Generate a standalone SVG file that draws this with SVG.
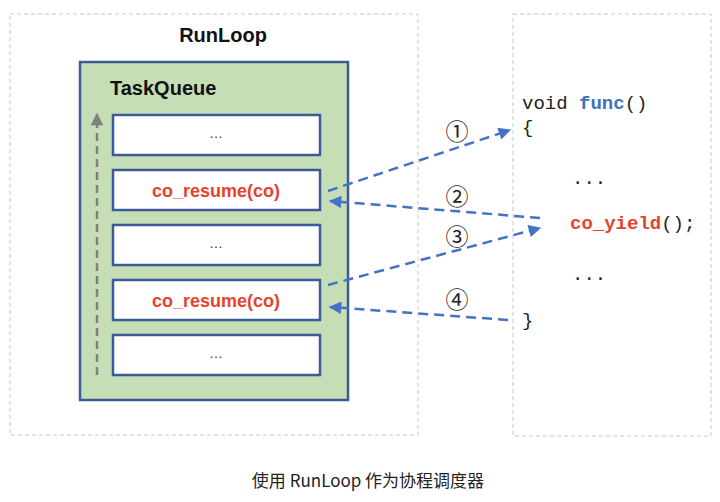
<svg xmlns="http://www.w3.org/2000/svg" width="720" height="502" viewBox="0 0 720 502">
<defs>
<style>
.frame{fill:#fff;stroke:#c8c8c8;stroke-width:1;stroke-dasharray:4 3}
.task{fill:#fff;stroke:#3d5a98;stroke-width:2.5}
.dots{font-family:"Liberation Sans",Arial,sans-serif;font-size:14px;fill:#333;text-anchor:middle}
.red{font-family:"Liberation Sans",Arial,sans-serif;font-size:18px;font-weight:bold;fill:#e5432f;text-anchor:middle}
.title{font-family:"Liberation Sans",Arial,sans-serif;font-size:20px;font-weight:bold;fill:#111}
.code{font-family:"Liberation Mono","Courier New",monospace;font-size:19px;fill:#222}
.num{font-family:"Noto Sans CJK SC","DejaVu Sans",sans-serif;font-size:23px;fill:#222;text-anchor:middle}
.conn{fill:none;stroke:#4472c4;stroke-width:2.5;stroke-dasharray:10 6}
</style>
<marker id="ah" viewBox="0 0 10 10" refX="9" refY="5" markerWidth="6" markerHeight="5" markerUnits="strokeWidth" orient="auto">
<path d="M0,0 L10,5 L0,10 z" fill="#4472c4"/>
</marker>
<marker id="ahg" viewBox="0 0 10 10" refX="9" refY="5" markerWidth="5.5" markerHeight="5" markerUnits="strokeWidth" orient="auto">
<path d="M0,0 L10,5 L0,10 z" fill="#808080"/>
</marker>
</defs>
<rect width="720" height="502" fill="#fff"/>
<g id="runloop">
<rect class="frame" x="10" y="14" width="408" height="421"/>
<text class="title" x="223" y="42" text-anchor="middle">RunLoop</text>
</g>
<g id="taskqueue">
<rect x="80" y="62" width="268" height="338" fill="#c5deb5" stroke="#3d5a98" stroke-width="2.5"/>
<text class="title" x="110" y="95">TaskQueue</text>
<line x1="97" y1="375" x2="97" y2="114" stroke="#808080" stroke-width="2.5" stroke-dasharray="8 5" marker-end="url(#ahg)"/>
</g>
<g id="task1"><rect class="task" x="113" y="115" width="207" height="40"/><text class="dots" x="216" y="138">…</text></g>
<g id="task2"><rect class="task" x="113" y="170" width="207" height="40"/><text class="red" x="216" y="197">co_resume(co)</text></g>
<g id="task3"><rect class="task" x="113" y="225" width="207" height="40"/><text class="dots" x="216" y="248">…</text></g>
<g id="task4"><rect class="task" x="113" y="280" width="207" height="40"/><text class="red" x="216" y="307">co_resume(co)</text></g>
<g id="task5"><rect class="task" x="113" y="335" width="207" height="40"/><text class="dots" x="216" y="358">…</text></g>
<g id="func">
<rect class="frame" x="513" y="14" width="198" height="422"/>
<text class="code" x="522" y="109">void <tspan font-weight="bold" fill="#3b74b9">func</tspan>()</text>
<text class="code" x="522" y="133">{</text>
<text class="code" x="572" y="184">...</text>
<text class="code" x="570" y="229"><tspan font-weight="bold" fill="#e5432f">co_yield</tspan>();</text>
<text class="code" x="572" y="280">...</text>
<text class="code" x="522" y="326">}</text>
</g>
<g id="connectors">
<path class="conn" d="M328,191 L510,130" marker-end="url(#ah)"/>
<path class="conn" d="M540,218 L330,201" marker-end="url(#ah)"/>
<path class="conn" d="M328,285 L540,228" marker-end="url(#ah)"/>
<path class="conn" d="M508,320 L330,307" marker-end="url(#ah)"/>
<text class="num" x="457" y="140">①</text>
<text class="num" x="457" y="205">②</text>
<text class="num" x="457" y="245">③</text>
<text class="num" x="457" y="308">④</text>
</g>
<text x="368" y="487" text-anchor="middle" font-family="'Noto Sans CJK SC',sans-serif" font-size="17" fill="#222">使用 RunLoop 作为协程调度器</text>
</svg>
